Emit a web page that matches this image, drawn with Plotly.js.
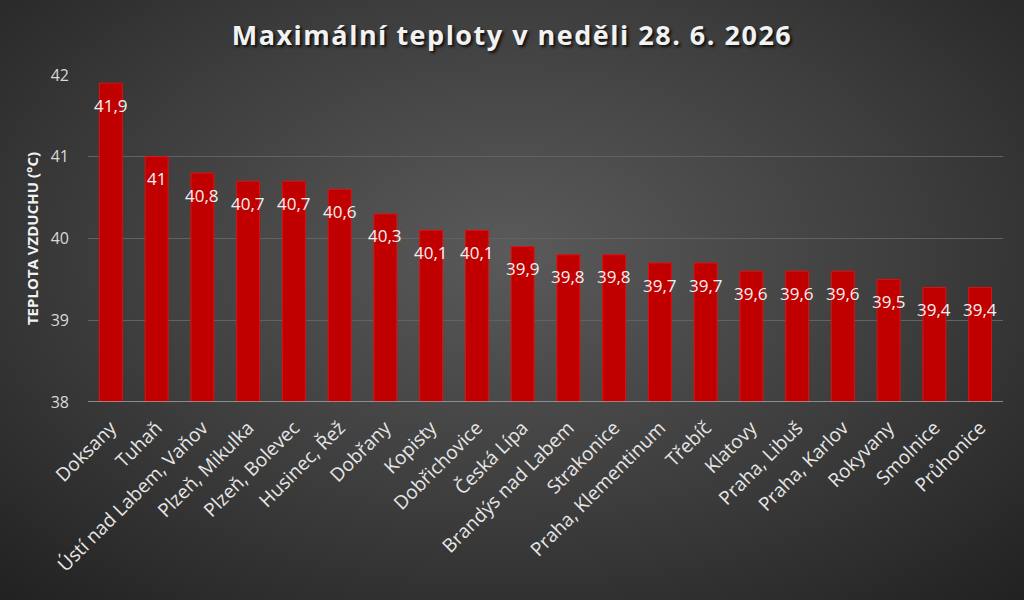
<!DOCTYPE html>
<html>
<head>
<meta charset="utf-8">
<script src="https://cdn.plot.ly/plotly-3.0.1.min.js"></script>
<style>
  html, body { margin: 0; padding: 0; }
  #chart {
    width: 1024px; height: 600px;
    background: radial-gradient(ellipse 75% 80% at 50% 42%, #5a5a5a 0%, #3c3c3c 55%, #202020 100%);
  }
  .gtitle { letter-spacing: 1.5px; }
</style>
</head>
<body>
<div id="chart"></div>
<script>
// stations and max temperatures (°C)
const stations = ["Doksany", "Tuhaň", "Ústí nad Labem, Vaňov", "Plzeň, Mikulka", "Plzeň, Bolevec",
    "Husinec, Řež", "Dobřany", "Kopisty", "Dobřichovice", "Česká Lípa", "Brandýs nad Labem",
    "Strakonice", "Praha, Klementinum", "Třebíč", "Klatovy", "Praha, Libuš", "Praha, Karlov",
    "Rokyvany", "Smolnice", "Průhonice"];
const temps = [41.9, 41, 40.8, 40.7, 40.7, 40.6, 40.3, 40.1, 40.1, 39.9, 39.8, 39.8, 39.7, 39.7,
    39.6, 39.6, 39.6, 39.5, 39.4, 39.4];
const yTicks = [38, 39, 40, 41, 42];

const trace = {
    x: stations,
    y: temps,
    type: 'bar',
    width: 0.5,
    marker: { color: '#c00000', line: { color: '#e01010', width: 1 } },
    hoverinfo: 'none'
};

// data labels just below the top of each bar, decimal comma
const labels = stations.map((s, i) => ({
    x: s, y: temps[i],
    text: String(temps[i]).replace('.', ','),
    showarrow: false,
    yanchor: 'middle',
    yshift: -22,
    font: { family: 'Open Sans', size: 17, color: '#f2f2f2' }
}));

const layout = {
    width: 1024, height: 600,
    paper_bgcolor: 'rgba(0,0,0,0)',
    plot_bgcolor: 'rgba(0,0,0,0)',
    margin: { l: 88, r: 21, t: 75, b: 198 },
    title: {
        text: 'Maximální teploty v neděli 28. 6. 2026',
        x: 0.5, xref: 'container', xanchor: 'center',
        y: 0.94, yref: 'container', yanchor: 'middle',
        font: { family: 'Open Sans', size: 27, weight: 'bold', color: '#f2f2f2', shadow: '2px 2px 3px rgba(0,0,0,0.8)' }
    },
    xaxis: {
        tickangle: -45,
        tickfont: { family: 'Open Sans', size: 19, color: '#e6e6e6' },
        ticklabelstandoff: 10,
        showgrid: false,
        showline: false,
        ticks: ''
    },
    yaxis: {
        range: [38, 42],
        tickvals: yTicks,
        ticktext: yTicks.map(String),
        tickfont: { family: 'Open Sans', size: 16, color: '#d9d9d9' },
        ticklabelstandoff: 18,
        ticklen: 0,
        ticks: '',
        gridcolor: '#626262',
        gridwidth: 1,
        zeroline: false,
        showline: false,
        title: {
            text: 'TEPLOTA VZDUCHU (°C)',
            font: { family: 'Open Sans', size: 15, weight: 'bold', color: '#f2f2f2' },
            standoff: 8
        }
    },
    shapes: [{
        type: 'line', xref: 'paper', yref: 'y', x0: 0, x1: 1, y0: 38, y1: 38,
        line: { color: '#a6a6a6', width: 1.5 }
    }],
    annotations: labels,
    showlegend: false
};

Plotly.newPlot('chart', [trace], layout, { displayModeBar: false, staticPlot: true });
</script>
</body>
</html>
